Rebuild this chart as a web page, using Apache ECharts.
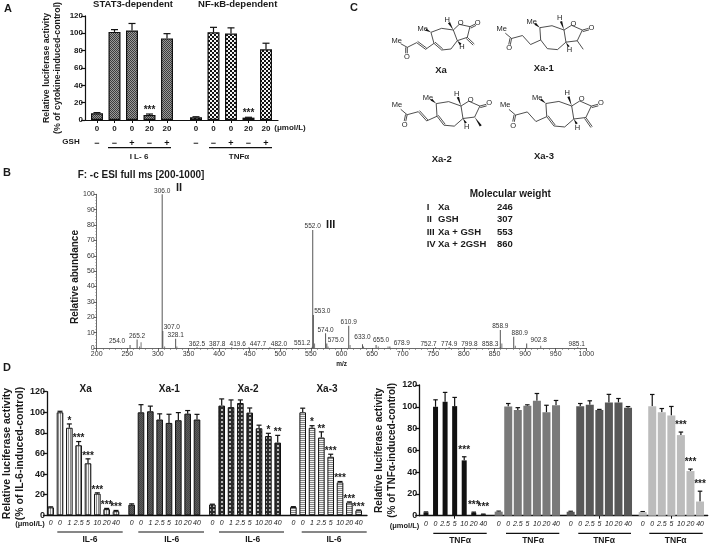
<!DOCTYPE html>
<html>
<head>
<meta charset="utf-8">
<style>html,body{margin:0;padding:0;background:#fff}#chart{width:709px;height:545px}</style>
<script src="https://cdn.jsdelivr.net/npm/echarts@6/dist/echarts.min.js"></script>
</head>
<body>
<div id="chart"></div>
<script>
// panel A
const aDoses = ["0", "0", "0", "20", "20"];
const aGsh = ["−", "−", "+", "−", "+"];
const stat3Values = [7.6, 100.4, 102, 5.7, 93];
const stat3Errors = [0.8, 2.6, 8, 1.1, 5.4];
const stat3Stars = ["", "", "", "***", ""];
const nfkbValues = [3, 100, 98.5, 2.7, 80.5];
const nfkbErrors = [0.7, 5.6, 6.5, 0.4, 7];
const nfkbStars = ["", "", "", "***", ""];

// panel B
const peakMz = [254.5, 266, 307, 308, 329, 363.9, 388.8, 420.6, 448.7, 483, 552.2, 553, 554, 574, 576, 611.8, 634.3, 656.5, 679, 753.7, 775.9, 800.8, 859.3, 859.5, 881.4, 902.6, 986];
const peakAbundance = [2, 5.5, 100, 11, 6, 0.5, 0.5, 0.5, 0.5, 0.5, 0.8, 76.8, 21.5, 9.6, 3, 14.5, 2.4, 2, 1, 0.5, 0.5, 0.5, 0.5, 11.7, 7.3, 3, 0.5];
const peakLabels = ["254.0", "265.2", "306.0", "307.0", "328.1", "362.5", "387.8", "419.6", "447.7", "482.0", "551.2", "552.0", "553.0", "574.0", "575.0", "610.9", "633.0", "655.0", "678.9", "752.7", "774.9", "799.8", "858.3", "858.9", "880.9", "902.8", "985.1"];
const noiseMz = [272.5, 270, 311, 331, 556, 578, 614, 636, 660, 676, 862, 884, 925.5];
const noiseAbundance = [3.7, 1, 1, 1, 3, 1, 2, 1, 1, 1, 3, 1.5, 1.5];
const weightRows = [["I", "Xa", "246"], ["II", "GSH", "307"], ["III", "Xa + GSH", "553"], ["IV", "Xa + 2GSH", "860"]];

// panel D, IL-6
const il6Doses = ["0", "0", "1", "2.5", "5", "10", "20", "40"];
const xaValues = [7.7, 100, 85, 68, 50.5, 21, 6, 4];
const xaErrors = [0.5, 1, 3.7, 3.6, 4.3, 0.8, 0.7, 0.7];
const xaStars = ["", "", "*", "***", "***", "***", "***", "***"];
const xa1Values = [10.3, 100, 101, 93, 89.7, 92.3, 98.7, 93];
const xa1Errors = [0.8, 7.4, 5, 5.5, 8.4, 7.4, 3, 5];
const xa2Values = [10.5, 106.5, 105, 109, 99.7, 84.5, 77, 70.6];
const xa2Errors = [0.3, 6.5, 7, 3, 4.5, 3, 2.6, 7];
const xa2Stars = ["", "", "", "", "", "", "*", "**"];
const xa3Values = [8, 100, 85, 75.5, 56.8, 32, 12.4, 4.8];
const xa3Errors = [0.4, 4, 2, 5.5, 2.5, 0.8, 0.6, 0.3];
const xa3Stars = ["", "", "*", "**", "***", "***", "***", "***"];

// panel D, TNFa
const tnfDoses = ["0", "0", "2.5", "5", "10", "20", "40"];
const tnfXaValues = [3, 100, 104.6, 100.6, 50.8, 2.8, 1.2];
const tnfXaErrors = [0.5, 6.4, 8.6, 8, 3.3, 0.5, 0.3];
const tnfXaStars = ["", "", "", "", "***", "***", "***"];
const tnfXa1Values = [3.7, 100.3, 97, 101, 105.5, 95, 101.5];
const tnfXa1Errors = [0.5, 2.7, 2.2, 0.8, 6.7, 6.4, 4.3];
const tnfXa2Values = [3.6, 100.6, 101.8, 97, 104, 104, 99];
const tnfXa2Errors = [0.5, 2.4, 3.7, 0.6, 7.4, 3.6, 1.2];
const tnfXa3Values = [3.3, 100.6, 95, 92, 74, 41, 13];
const tnfXa3Errors = [0.5, 10.7, 3.4, 8.3, 2.8, 1.8, 9.5];
const tnfXa3Stars = ["", "", "", "", "***", "***", "***"];

const FONT = "Liberation Sans";
const CHART_H = 545;

const makePattern = (w, h, bg, fg, cells) => {
    const canvas = document.createElement("canvas");
    canvas.width = w;
    canvas.height = h;
    const ctx = canvas.getContext("2d");
    ctx.fillStyle = bg;
    ctx.fillRect(0, 0, w, h);
    ctx.fillStyle = fg;
    for (const c of cells) {
        ctx.fillRect(c[0], c[1], c[2], c[3]);
    }
    return { image: canvas, repeat: "repeat" };
};
const denseCheck = makePattern(2, 2, "#9a9a9a", "#3c3c3c", [[0, 0, 1, 1], [1, 1, 1, 1]]);
const bigCheck = makePattern(4, 4, "#f4f4f4", "#111", [[0, 0, 2, 2], [2, 2, 2, 2]]);
const vStripe = makePattern(2, 2, "#f2f2f2", "#8c8c8c", [[0, 0, 1, 2]]);
const darkTexture = makePattern(2, 2, "#5c5c5c", "#444", [[0, 0, 1, 1], [1, 1, 1, 1]]);
const dots = makePattern(4, 4, "#2c2c2c", "#b8b8b8", [[1, 1, 2, 2]]);
const hStripe = makePattern(2, 2, "#f2f2f2", "#858585", [[0, 0, 2, 1]]);

const grids = [];
const xAxes = [];
const yAxes = [];
const series = [];
const graphics = [];

const text = (str, x, y, size, extra) => {
    graphics.push({
        type: "text",
        silent: true,
        x,
        y,
        rotation: extra && extra.rotation || 0,
        style: Object.assign({
            text: str,
            font: `bold ${size}px "${FONT}"`,
            fill: "#1a1a1a",
            textAlign: "center",
            textVerticalAlign: "middle"
        }, extra && extra.style)
    });
};
const rule = (x1, x2, y) => {
    graphics.push({
        type: "line",
        silent: true,
        shape: { x1, y1: y, x2, y2: y },
        style: { stroke: "#111", lineWidth: 1.2 }
    });
};

const addBaseAxis = (cfg) => {
    const index = grids.length;
    grids.push({ left: cfg.left, width: cfg.width, top: cfg.top, bottom: CHART_H - cfg.zeroY });
    xAxes.push({
        gridIndex: index,
        type: "category",
        data: [],
        axisLine: { lineStyle: { color: "#111", width: cfg.lineWidth } },
        axisTick: { show: false },
        axisLabel: { show: false }
    });
    yAxes.push({
        gridIndex: index,
        type: "value",
        min: 0,
        max: 120,
        interval: 20,
        splitLine: { show: false },
        axisLine: { show: true, lineStyle: { color: "#111", width: cfg.lineWidth } },
        axisTick: { show: true, length: 4, lineStyle: { color: "#111", width: cfg.lineWidth } },
        axisLabel: { margin: 2, color: "#1a1a1a", fontFamily: FONT, fontWeight: "bold", fontSize: cfg.tickSize },
        name: cfg.name,
        nameLocation: "middle",
        nameRotate: 90,
        nameGap: cfg.nameGap,
        nameTextStyle: { color: "#1a1a1a", fontFamily: FONT, fontWeight: "bold", fontSize: cfg.nameSize, lineHeight: cfg.nameLine }
    });
};

const addGroup = (cfg) => {
    const index = grids.length;
    grids.push({ left: cfg.left, width: cfg.width, top: cfg.top, bottom: CHART_H - cfg.zeroY });
    xAxes.push({
        gridIndex: index,
        type: "category",
        data: cfg.categories,
        axisLine: { show: false },
        axisTick: cfg.ticks,
        axisLabel: Object.assign({
            interval: 0,
            margin: cfg.labelMargin,
            color: "#1a1a1a",
            fontFamily: FONT,
            fontSize: cfg.labelSize
        }, cfg.labelStyle)
    });
    if (cfg.signs) {
        xAxes.push({
            gridIndex: index,
            type: "category",
            position: "bottom",
            offset: 14,
            data: cfg.signs,
            axisLine: { show: false },
            axisTick: { show: false },
            axisLabel: { interval: 0, margin: cfg.labelMargin, color: "#111", fontFamily: FONT, fontWeight: "bold", fontSize: 9 }
        });
    }
    const xAxisIndex = xAxes.length - (cfg.signs ? 2 : 1);
    yAxes.push({ gridIndex: index, type: "value", min: 0, max: 120, show: false });
    const yAxisIndex = yAxes.length - 1;
    series.push({
        type: "bar",
        xAxisIndex,
        yAxisIndex,
        barWidth: cfg.barWidth,
        silent: true,
        animation: false,
        data: cfg.values,
        itemStyle: { color: cfg.fill, borderColor: cfg.border, borderWidth: cfg.borderWidth }
    });
    series.push({
        type: "custom",
        xAxisIndex,
        yAxisIndex,
        silent: true,
        animation: false,
        clip: false,
        encode: { x: 0, y: 2 },
        data: cfg.values.map((v, i) => [i, v, v + cfg.errors[i], cfg.stars ? cfg.stars[i] : ""]),
        renderItem: (params, api) => {
            const top = api.coord([api.value(0), api.value(2)]);
            const low = api.coord([api.value(0), api.value(1)]);
            const cap = cfg.capWidth / 2;
            const children = [
                { type: "line", shape: { x1: top[0], y1: low[1], x2: top[0], y2: top[1] }, style: { stroke: "#111", lineWidth: 1.2 } },
                { type: "line", shape: { x1: top[0] - cap, y1: top[1], x2: top[0] + cap, y2: top[1] }, style: { stroke: "#111", lineWidth: 1.2 } }
            ];
            const stars = cfg.stars ? cfg.stars[params.dataIndex] : "";
            if (stars) {
                children.push({
                    type: "text",
                    style: {
                        text: stars,
                        x: top[0],
                        y: top[1] - cfg.starGap + 1.5,
                        font: `bold 10px "${FONT}"`,
                        fill: "#222",
                        textAlign: "center",
                        textVerticalAlign: "middle"
                    }
                });
            }
            return { type: "group", children };
        }
    });
};

// panel A
addBaseAxis({
    left: 85, width: 193, top: 14.7, zeroY: 120, lineWidth: 1.2, tickSize: 8,
    name: "Relative luciferase activity\n(% of cytokine-induced-control)",
    nameGap: 21.5, nameSize: 8.8, nameLine: 11
});
const panelA = {
    top: 14.7, zeroY: 120, width: 87.5, categories: aDoses, signs: aGsh,
    labelMargin: 5, labelSize: 8, labelStyle: { fontWeight: "bold" },
    ticks: { show: true, length: 3, alignWithLabel: true, lineStyle: { color: "#111", width: 1 } },
    barWidth: 12, border: "#111", borderWidth: 1.2, capWidth: 7, starGap: 5.6
};
addGroup(Object.assign({}, panelA, { left: 88.25, values: stat3Values, errors: stat3Errors, stars: stat3Stars, fill: denseCheck }));
addGroup(Object.assign({}, panelA, { left: 187.25, values: nfkbValues, errors: nfkbErrors, stars: nfkbStars, fill: bigCheck }));
text("STAT3-dependent", 133, 4.5, 9.5);
text("NF-κB-dependent", 237.7, 4.5, 9.5);
text("(μmol/L)", 290, 128, 8);
text("GSH", 71, 142, 8);
rule(108, 171, 147.7);
rule(209, 272, 147.7);
text("I L- 6", 139, 157, 8);
text("TNFα", 239, 157, 8);

// panel B
grids.push({ left: 96.7, width: 489.6, top: 194.3, bottom: CHART_H - 348 });
xAxes.push({
    gridIndex: grids.length - 1,
    type: "value",
    min: 200,
    max: 1000,
    interval: 50,
    splitLine: { show: false },
    axisLine: { lineStyle: { color: "#444", width: 0.8 } },
    axisTick: { length: 3, lineStyle: { color: "#444", width: 0.8 } },
    minorTick: { show: true, splitNumber: 5, length: 2, lineStyle: { color: "#666", width: 0.6 } },
    axisLabel: { margin: 3, color: "#333", fontFamily: FONT, fontSize: 7, formatter: (v) => String(v) }
});
yAxes.push({
    gridIndex: grids.length - 1,
    type: "value",
    min: 0,
    max: 100,
    interval: 10,
    splitLine: { show: false },
    axisLine: { show: true, lineStyle: { color: "#444", width: 0.8 } },
    axisTick: { show: true, length: 3, lineStyle: { color: "#444", width: 0.8 } },
    minorTick: { show: true, splitNumber: 5, length: 1.5, lineStyle: { color: "#777", width: 0.5 } },
    axisLabel: { margin: 2, color: "#333", fontFamily: FONT, fontSize: 7 }
});
// how far each m/z label sits from its own stick, as in the picture
const peakLabelOffsets = {
    "254.0": [-13, 0], "307.0": [9, 0], "387.8": [5, 0], "419.6": [6, 0], "447.7": [9, 0], "482.0": [9, 0],
    "551.2": [-10, 0], "553.0": [9, 0], "575.0": [9, 0], "633.0": [0, -4], "655.0": [5, -1], "678.9": [12, 0],
    "752.7": [-7, 0], "799.8": [5, 0], "858.3": [-10, 0], "880.9": [6, 0], "902.8": [12, 0], "985.1": [-1, 0]
};
series.push({
    type: "bar",
    xAxisIndex: xAxes.length - 1,
    yAxisIndex: yAxes.length - 1,
    barWidth: 1,
    silent: true,
    animation: false,
    itemStyle: { color: "#555" },
    data: peakMz.map((mz, i) => ({
        value: [mz, peakAbundance[i]],
        label: {
            show: true,
            position: "top",
            distance: 0,
            formatter: peakLabels[i],
            offset: peakLabelOffsets[peakLabels[i]] || [0, 0],
            color: "#333",
            fontFamily: FONT,
            fontSize: 6.5
        }
    }))
});
series.push({
    type: "bar",
    xAxisIndex: xAxes.length - 1,
    yAxisIndex: yAxes.length - 1,
    barWidth: 1,
    barGap: "-100%",
    silent: true,
    animation: false,
    itemStyle: { color: "#777" },
    data: noiseMz.map((mz, i) => [mz, noiseAbundance[i]])
});
text("F: -c ESI full ms [200-1000]", 141, 175, 10);
text("II", 179, 188, 11);
text("III", 330.7, 225, 11);
text("Relative abundance", 75, 277, 10, { rotation: Math.PI / 2 });
text("m/z", 341.7, 364.5, 6.5);
text("Molecular weight", 510.3, 194, 10);
weightRows.forEach((row, i) => {
    const y = 207.7 + i * 12.1;
    const left = { style: { textAlign: "left" } };
    text(row[0], 426.7, y, 9.5, left);
    text(row[1], 438, y, 9.5, left);
    text(row[2], 497, y, 9.5, left);
});

// panel D, IL-6
addBaseAxis({
    left: 40, width: 327, top: 391.7, zeroY: 515.3, lineWidth: 1.3, tickSize: 9,
    name: "Relative luciferase activity\n(% of IL-6-induced-control)",
    nameGap: 20, nameSize: 10.5, nameLine: 12.5
});
const panelIl6 = {
    top: 391.7, zeroY: 515.3, width: 74.67, categories: il6Doses,
    labelMargin: 4, labelSize: 7, labelStyle: { fontStyle: "italic" },
    ticks: { show: false }, barWidth: 6.6, border: "#111", borderWidth: 1, capWidth: 5, starGap: 4.5
};
addGroup(Object.assign({}, panelIl6, { left: 46, values: xaValues, errors: xaErrors, stars: xaStars, fill: vStripe }));
addGroup(Object.assign({}, panelIl6, { left: 127, values: xa1Values, errors: xa1Errors, fill: darkTexture }));
addGroup(Object.assign({}, panelIl6, { left: 207.7, values: xa2Values, errors: xa2Errors, stars: xa2Stars, fill: dots }));
addGroup(Object.assign({}, panelIl6, { left: 288.7, values: xa3Values, errors: xa3Errors, stars: xa3Stars, fill: hStripe }));
text("Xa", 85.7, 389, 10);
text("Xa-1", 169.3, 389, 10);
text("Xa-2", 248, 389, 10);
text("Xa-3", 327, 389, 10);
text("(μmol/L)", 30, 524, 7.5);
[[57.3, 122.7, 90], [138.3, 204, 171.7], [219, 284, 252.7], [301.7, 366.7, 334]].forEach((g) => {
    rule(g[0], g[1], 532);
    text("IL-6", g[2], 539.5, 8.5);
});

// panel D, TNFa
addBaseAxis({
    left: 419.3, width: 288.4, top: 385, zeroY: 515.7, lineWidth: 1.3, tickSize: 9,
    name: "Relative luciferase activity\n(% of TNFα-induced-control)",
    nameGap: 18, nameSize: 10, nameLine: 12.5
});
const panelTnf = {
    top: 385, zeroY: 515.7, width: 66.9, categories: tnfDoses,
    labelMargin: 5, labelSize: 7, labelStyle: { fontStyle: "italic" },
    barWidth: 8, border: "transparent", borderWidth: 0, capWidth: 4.5, starGap: 8.5
};
const midTick = {
    show: true, length: 3, alignWithLabel: true,
    interval: (index) => index === 3,
    lineStyle: { color: "#111", width: 1 }
};
addGroup(Object.assign({}, panelTnf, { left: 421.2, values: tnfXaValues, errors: tnfXaErrors, stars: tnfXaStars, fill: "#111", barWidth: 5, ticks: midTick }));
addGroup(Object.assign({}, panelTnf, { left: 493.9, values: tnfXa1Values, errors: tnfXa1Errors, fill: "#7a7a7a", ticks: { show: false } }));
addGroup(Object.assign({}, panelTnf, { left: 565.9, values: tnfXa2Values, errors: tnfXa2Errors, fill: "#585858", ticks: midTick }));
addGroup(Object.assign({}, panelTnf, { left: 637.9, values: tnfXa3Values, errors: tnfXa3Errors, stars: tnfXa3Stars, fill: "#bcbcbc", ticks: midTick }));
text("(μmol/L)", 404.5, 525.5, 7.5);
[[433.3, 486.7, 460], [506, 559.3, 533], [578.3, 631, 604], [649.3, 702.7, 675.7]].forEach((g) => {
    rule(g[0], g[1], 533.3);
    text("TNFα", g[2], 541, 8.5);
});

// panel letters
text("A", 8, 9, 11);
text("B", 7, 173, 11);
text("C", 354, 8, 11);
text("D", 7, 368, 11);

// panel C, one skeleton turned and moved for each compound
const atoms = {
    cMe: [303, 97], a: [335, 85], b: [370, 90], c: [382, 122], d: [363, 147], e: [335, 150], f: [312, 130],
    oRing: [388, 73], co: [420, 80], oEnd: [436, 72], alpha: [412, 112], tail: [433, 132],
    g: [287, 148], h: [260, 128], i: [232, 142], oKeto: [232, 160], meEnd: [212, 131]
};
const drawMolecule = (mol) => {
    const cos = Math.cos(mol.turn);
    const sin = Math.sin(mol.turn);
    const at = (p) => [
        mol.x + mol.scale * (cos * (p[0] - 370) - sin * (p[1] - 90)),
        mol.y + mol.scale * (sin * (p[0] - 370) + cos * (p[1] - 90))
    ];
    const bond = (p, q, isDouble) => {
        const P = at(p);
        const Q = at(q);
        graphics.push({ type: "line", silent: true, shape: { x1: P[0], y1: P[1], x2: Q[0], y2: Q[1] }, style: { stroke: "#222", lineWidth: 0.8 } });
        if (isDouble) {
            const dx = Q[0] - P[0];
            const dy = Q[1] - P[1];
            const len = Math.hypot(dx, dy);
            const ox = -dy / len * 1.6;
            const oy = dx / len * 1.6;
            graphics.push({ type: "line", silent: true, shape: { x1: P[0] + ox, y1: P[1] + oy, x2: Q[0] + ox, y2: Q[1] + oy }, style: { stroke: "#222", lineWidth: 0.8 } });
        }
    };
    const wedge = (p, q) => {
        const P = at(p);
        const Q = at(q);
        const dx = Q[0] - P[0];
        const dy = Q[1] - P[1];
        const len = Math.hypot(dx, dy);
        const ox = -dy / len * 1.2;
        const oy = dx / len * 1.2;
        graphics.push({
            type: "polygon",
            silent: true,
            shape: { points: [P, [Q[0] + ox, Q[1] + oy], [Q[0] - ox, Q[1] - oy]] },
            style: { fill: "#111" }
        });
    };
    const atomText = (str, p) => {
        const P = at(p);
        text(str, P[0], P[1], 7.5, { style: { font: `7.5px "${FONT}"`, fill: "#222" } });
    };
    bond(atoms.cMe, atoms.a);
    bond(atoms.a, atoms.b);
    bond(atoms.b, atoms.c);
    bond(atoms.c, atoms.d);
    bond(atoms.d, atoms.e);
    bond(atoms.e, atoms.f, mol.ringDouble);
    bond(atoms.f, atoms.cMe);
    bond(atoms.b, atoms.oRing);
    bond(atoms.oRing, atoms.co);
    bond(atoms.co, atoms.oEnd, true);
    bond(atoms.co, atoms.alpha);
    bond(atoms.alpha, atoms.c);
    bond(atoms.f, atoms.g);
    bond(atoms.g, atoms.h, mol.chainDouble);
    bond(atoms.h, atoms.i);
    bond(atoms.i, atoms.oKeto, true);
    bond(atoms.i, atoms.meEnd);
    wedge(atoms.cMe, [288, 89]);
    wedge(atoms.b, [357, 68]);
    wedge(atoms.c, [392, 133]);
    if (mol.tail === "exo") {
        bond(atoms.alpha, atoms.tail, true);
    } else if (mol.tail === "wedge") {
        wedge(atoms.alpha, atoms.tail);
    } else {
        bond(atoms.alpha, atoms.tail);
    }
    atomText("Me", [278, 86]);
    atomText("H", [352, 60]);
    atomText("H", [396, 142]);
    atomText("O", [392, 68]);
    atomText("O", [443, 68]);
    atomText("O", [231, 170]);
    atomText("Me", [200, 122]);
    text(mol.name, mol.labelX, mol.labelY, 9.5);
};
drawMolecule({ name: "Xa", x: 453.3, y: 30, scale: 1 / 3, turn: 0, ringDouble: true, chainDouble: true, tail: "exo", labelX: 441, labelY: 70 });
drawMolecule({ name: "Xa-1", x: 564, y: 30, scale: 0.36, turn: 0.2, ringDouble: false, chainDouble: false, tail: "plain", labelX: 543.7, labelY: 68.3 });
drawMolecule({ name: "Xa-2", x: 461, y: 106, scale: 0.37, turn: 0.2, ringDouble: true, chainDouble: true, tail: "wedge", labelX: 441.7, labelY: 159.3 });
drawMolecule({ name: "Xa-3", x: 571.7, y: 106, scale: 0.385, turn: 0.2, ringDouble: true, chainDouble: false, tail: "exo", labelX: 544, labelY: 156.7 });

const chart = echarts.init(document.getElementById("chart"), null, { renderer: "canvas" });
chart.setOption({
    animation: false,
    backgroundColor: "#fff",
    textStyle: { fontFamily: FONT },
    grid: grids,
    xAxis: xAxes,
    yAxis: yAxes,
    series,
    graphic: graphics
});
</script>
</body>
</html>
